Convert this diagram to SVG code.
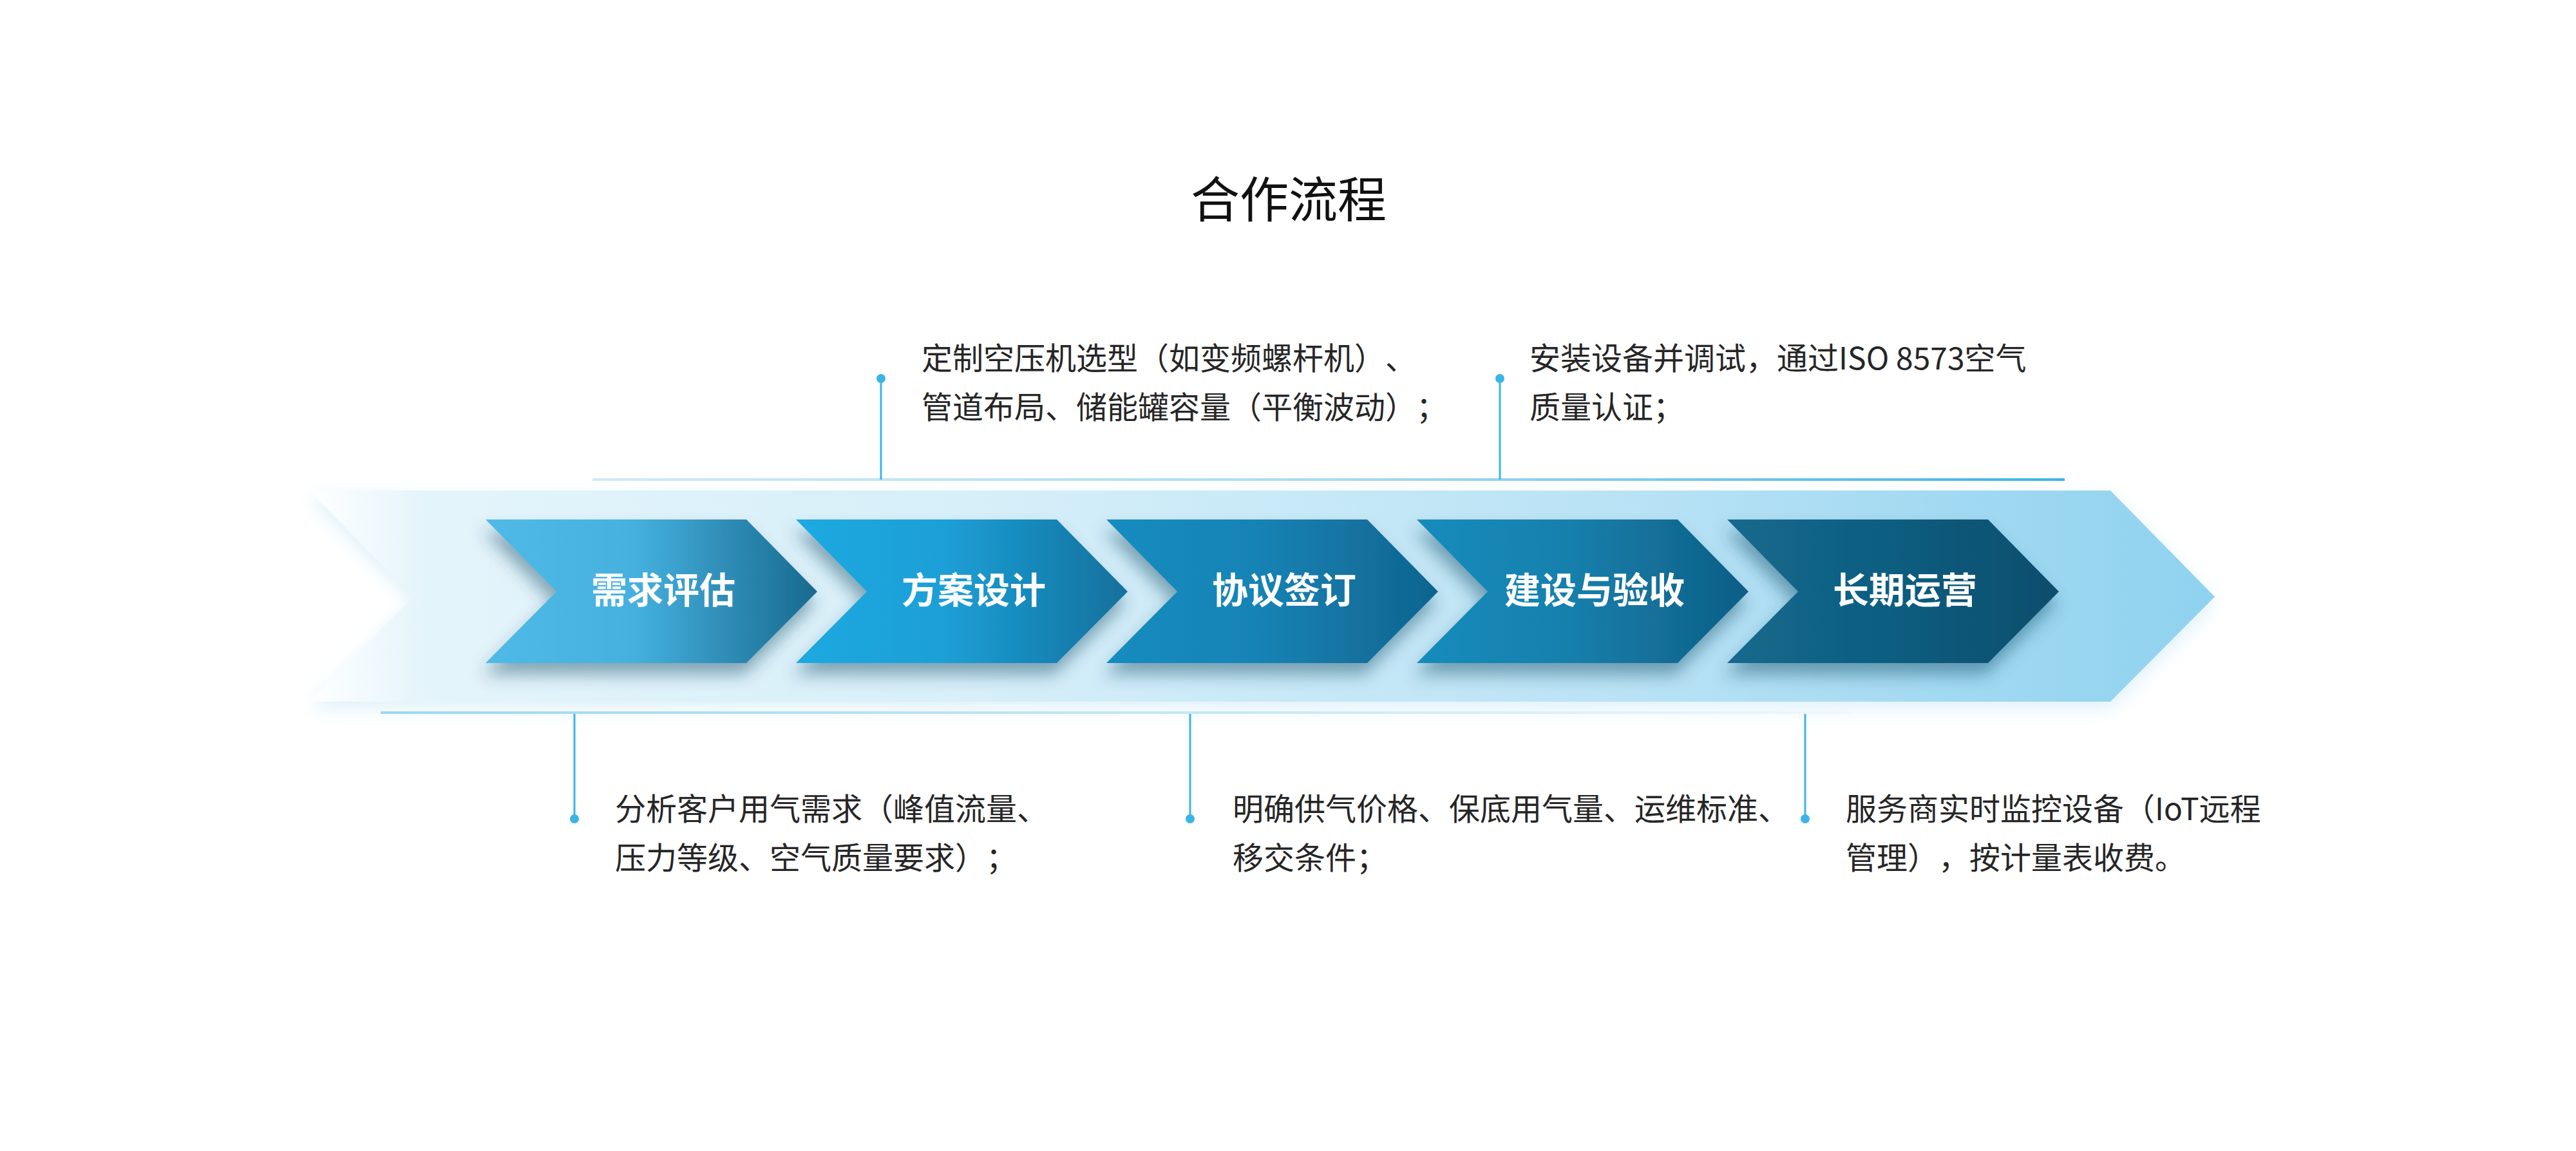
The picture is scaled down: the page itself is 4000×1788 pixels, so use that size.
<svg xmlns="http://www.w3.org/2000/svg" width="4000" height="1788" viewBox="0 0 4000 1788">
<defs>
<style>
text{text-spacing-trim:space-all}
.title{font-family:"Noto Sans CJK SC","Noto Sans",sans-serif;font-size:76px;fill:#111;text-anchor:middle}
.step{font-family:"Noto Sans CJK SC","Noto Sans",sans-serif;font-size:56px;font-weight:700;fill:#fff;text-anchor:middle}
.desc{font-family:"Noto Sans CJK SC","Noto Sans",sans-serif;font-size:48px;fill:#262626}
.lead{stroke:#3bb4e8;stroke-width:3;fill:none}
.dot{fill:#3bb4e8}
</style>
<linearGradient id="bgGrad" x1="480" y1="0" x2="3439" y2="0" gradientUnits="userSpaceOnUse">
<stop offset="0" stop-color="#ffffff"/>
<stop offset="0.06" stop-color="#e4f4fb"/>
<stop offset="0.35" stop-color="#d6eff9"/>
<stop offset="0.7" stop-color="#b8e2f5"/>
<stop offset="1" stop-color="#8fd2ef"/>
</linearGradient>
<linearGradient id="topLine" x1="0" y1="0" x2="1" y2="0">
<stop offset="0" stop-color="#cdeaf8"/>
<stop offset="0.5" stop-color="#a8dbf3"/>
<stop offset="1" stop-color="#3bb4e8"/>
</linearGradient>
<linearGradient id="botLine" x1="0" y1="0" x2="1" y2="0">
<stop offset="0" stop-color="#9fd7f2"/>
<stop offset="0.6" stop-color="#c8e9f7"/>
<stop offset="1" stop-color="#eef8fc"/>
</linearGradient>
<linearGradient id="c1" x1="0" y1="0" x2="1" y2="0">
<stop offset="0" stop-color="#50bae7"/><stop offset="0.45" stop-color="#45b0de"/><stop offset="1" stop-color="#186a8f"/>
</linearGradient>
<linearGradient id="c2" x1="0" y1="0" x2="1" y2="0">
<stop offset="0" stop-color="#1fa9e1"/><stop offset="0.45" stop-color="#1c9fd6"/><stop offset="1" stop-color="#13709c"/>
</linearGradient>
<linearGradient id="c3" x1="0" y1="0" x2="1" y2="0">
<stop offset="0" stop-color="#168cc0"/><stop offset="0.45" stop-color="#1583b5"/><stop offset="1" stop-color="#10648e"/>
</linearGradient>
<linearGradient id="c4" x1="0" y1="0" x2="1" y2="0">
<stop offset="0" stop-color="#178cbc"/><stop offset="0.45" stop-color="#1580ad"/><stop offset="1" stop-color="#0f5e84"/>
</linearGradient>
<linearGradient id="c5" x1="0" y1="0" x2="1" y2="0">
<stop offset="0" stop-color="#13698d"/><stop offset="0.45" stop-color="#105f82"/><stop offset="1" stop-color="#0c4d6c"/>
</linearGradient>
<filter id="bgShadow" x="-5%" y="-30%" width="110%" height="160%">
<feGaussianBlur in="SourceAlpha" stdDeviation="14"/>
<feOffset dx="0" dy="10" result="b"/>
<feFlood flood-color="#9fd6ef" flood-opacity="0.35"/>
<feComposite in2="b" operator="in"/>
<feMerge><feMergeNode/><feMergeNode in="SourceGraphic"/></feMerge>
</filter>
<filter id="chShadow" x="-15%" y="-20%" width="130%" height="150%">
<feGaussianBlur in="SourceAlpha" stdDeviation="13"/>
<feOffset dx="-4" dy="18" result="b"/>
<feFlood flood-color="#0b3b56" flood-opacity="0.42"/>
<feComposite in2="b" operator="in"/>
<feMerge><feMergeNode/><feMergeNode in="SourceGraphic"/></feMerge>
</filter>
<path id="chev" d="M0,0 H405 L515,112 L405,223 H0 L110,112 Z"/>
</defs>
<rect width="4000" height="1788" fill="#ffffff"/>

<g id="title"><text class="title" x="2001" y="338">合作流程</text></g>

<g id="flow-band">
<polygon points="480,762 3277,762 3439,927 3277,1090 480,1090 642,927" fill="url(#bgGrad)" filter="url(#bgShadow)"/>
</g>

<g id="connectors">
<rect x="920" y="743" width="2286" height="4" fill="url(#topLine)"/>
<rect x="591" y="1105" width="2281" height="4" fill="url(#botLine)"/>
<line class="lead" x1="1368" y1="588" x2="1368" y2="745"/>
<line class="lead" x1="2329" y1="588" x2="2329" y2="745"/>
<line class="lead" x1="892" y1="1109" x2="892" y2="1272"/>
<line class="lead" x1="1848" y1="1109" x2="1848" y2="1272"/>
<line class="lead" x1="2803" y1="1109" x2="2803" y2="1272"/>
</g>

<g id="step1">
<use href="#chev" x="754" y="807" fill="url(#c1)" filter="url(#chShadow)"/>
<text class="step" x="1030" y="937">需求评估</text>
</g>
<g id="step2">
<use href="#chev" x="1236" y="807" fill="url(#c2)" filter="url(#chShadow)"/>
<text class="step" x="1512" y="937">方案设计</text>
</g>
<g id="step3">
<use href="#chev" x="1718" y="807" fill="url(#c3)" filter="url(#chShadow)"/>
<text class="step" x="1994" y="937">协议签订</text>
</g>
<g id="step4">
<use href="#chev" x="2200" y="807" fill="url(#c4)" filter="url(#chShadow)"/>
<text class="step" x="2476" y="937">建设与验收</text>
</g>
<g id="step5">
<use href="#chev" x="2682" y="807" fill="url(#c5)" filter="url(#chShadow)"/>
<text class="step" x="2958" y="937">长期运营</text>
</g>

<g id="desc1">
<circle class="dot" cx="892" cy="1272" r="7"/>
<text class="desc" x="955" y="1274">分析客户用气需求（峰值流量、</text>
<text class="desc" x="955" y="1350">压力等级、空气质量要求）；</text>
</g>
<g id="desc2">
<circle class="dot" cx="1368" cy="588" r="7"/>
<text class="desc" x="1431" y="574">定制空压机选型（如变频螺杆机）、</text>
<text class="desc" x="1431" y="650">管道布局、储能罐容量（平衡波动）；</text>
</g>
<g id="desc3">
<circle class="dot" cx="1848" cy="1272" r="7"/>
<text class="desc" x="1914" y="1274">明确供气价格、保底用气量、运维标准、</text>
<text class="desc" x="1914" y="1350">移交条件；</text>
</g>
<g id="desc4">
<circle class="dot" cx="2329" cy="588" r="7"/>
<text class="desc" x="2375" y="574">安装设备并调试，通过ISO 8573空气</text>
<text class="desc" x="2375" y="650">质量认证；</text>
</g>
<g id="desc5">
<circle class="dot" cx="2803" cy="1272" r="7"/>
<text class="desc" x="2866" y="1274">服务商实时监控设备（IoT远程</text>
<text class="desc" x="2866" y="1350">管理），按计量表收费。</text>
</g>
</svg>
